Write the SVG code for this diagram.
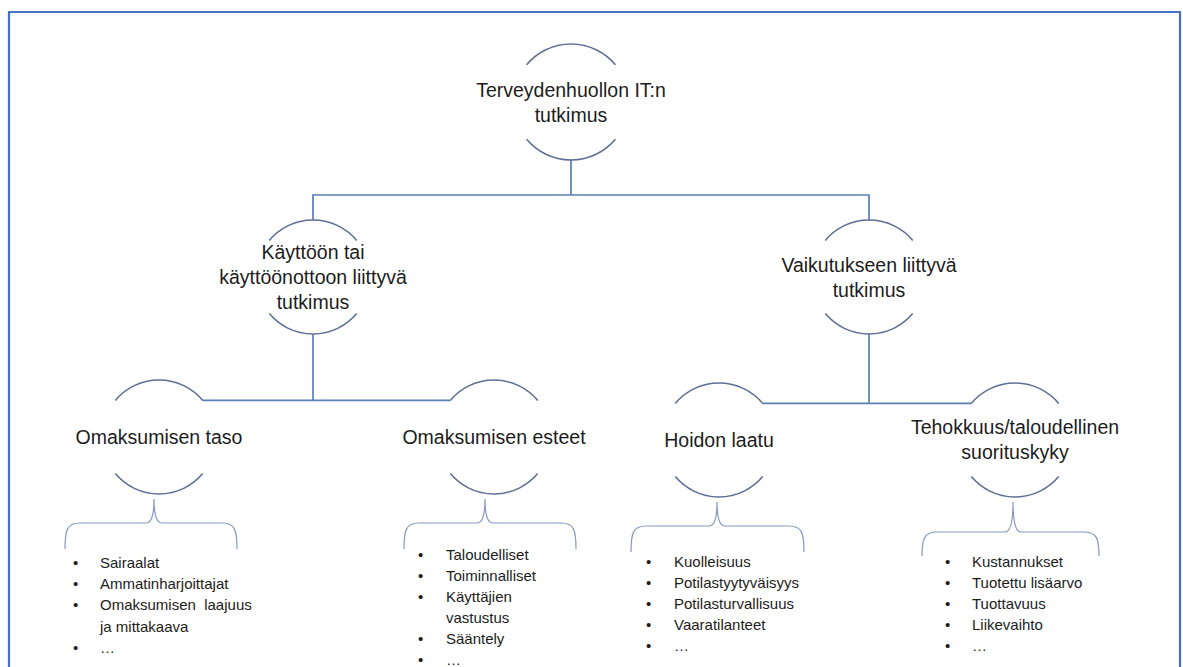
<svg xmlns="http://www.w3.org/2000/svg" width="1183" height="667" viewBox="0 0 1183 667">
  <style>
    .frame { fill: none; stroke: #4472C4; stroke-width: 2.2; }
    .arc { fill: none; stroke: #5F6F96; stroke-width: 1.6; }
    .link { fill: none; stroke: #5B7DB8; stroke-width: 1.7; }
    .brace { fill: none; stroke: #8597C2; stroke-width: 1.2; }
    .node { font-family: "Liberation Sans", Arial, sans-serif; font-size: 19.5px; fill: #1c1c1c; text-anchor: middle; }
    .item { font-family: "Liberation Sans", Arial, sans-serif; font-size: 15px; fill: #1c1c1c; }
  </style>
  <rect width="1183" height="667" fill="#ffffff"/>
  <!-- outer frame, open at the bottom -->
  <path class="frame" d="M9,667 V12 H1180 V667"/>

  <!-- connectors -->
  <g id="connectors">
    <path class="link" d="M571,160 V195"/>
    <path class="link" d="M313,220 V195 H869 V220"/>
    <path class="link" d="M313,334 V400.4"/>
    <path class="link" d="M202.7,400.4 H450.3"/>
    <path class="link" d="M869,334 V403.4"/>
    <path class="link" d="M762.7,403.4 H971.3"/>
  </g>

  <!-- root -->
  <g id="node-root">
    <path class="arc" d="M526.6,64.7 A58,58 0 0 1 615.4,64.7"/>
    <path class="arc" d="M526.6,139.3 A58,58 0 0 0 615.4,139.3"/>
    <text class="node" x="571" y="97">Terveydenhuollon IT:n</text>
    <text class="node" x="571" y="122">tutkimus</text>
  </g>

  <!-- adoption branch -->
  <g id="node-adoption">
    <path class="arc" d="M269.3,240.4 A57,57 0 0 1 356.7,240.4"/>
    <path class="arc" d="M269.3,313.6 A57,57 0 0 0 356.7,313.6"/>
    <text class="node" x="313" y="259">Käyttöön tai</text>
    <text class="node" x="313" y="284">käyttöönottoon liittyvä</text>
    <text class="node" x="313" y="309">tutkimus</text>
  </g>

  <!-- impact branch -->
  <g id="node-impact">
    <path class="arc" d="M825.3,240.4 A57,57 0 0 1 912.7,240.4"/>
    <path class="arc" d="M825.3,313.6 A57,57 0 0 0 912.7,313.6"/>
    <text class="node" x="869" y="272">Vaikutukseen liittyvä</text>
    <text class="node" x="869" y="297">tutkimus</text>
  </g>

  <!-- level of adoption -->
  <g id="node-level">
    <path class="arc" d="M115.3,400.4 A57,57 0 0 1 202.7,400.4"/>
    <path class="arc" d="M115.3,473.6 A57,57 0 0 0 202.7,473.6"/>
    <text class="node" x="159" y="444">Omaksumisen taso</text>
    <path class="brace" d="M65,549 C65,530 67,523 80,523 H146 Q154,523 154,499 Q154,523 162,523 H222 C235,523 237,530 237,549"/>
    <g class="item">
      <text x="73" y="568">•</text><text x="100" y="568">Sairaalat</text>
      <text x="73" y="589">•</text><text x="100" y="589">Ammatinharjoittajat</text>
      <text x="73" y="610">•</text><text x="100" y="610" xml:space="preserve">Omaksumisen  laajuus</text>
      <text x="100" y="632">ja mittakaava</text>
      <text x="73" y="653">•</text><text x="100" y="653">…</text>
    </g>
  </g>

  <!-- barriers to adoption -->
  <g id="node-barriers">
    <path class="arc" d="M450.3,400.4 A57,57 0 0 1 537.7,400.4"/>
    <path class="arc" d="M450.3,473.6 A57,57 0 0 0 537.7,473.6"/>
    <text class="node" x="494" y="444">Omaksumisen esteet</text>
    <path class="brace" d="M404,549 C404,530 406,523 419,523 H477 Q485,523 485,499 Q485,523 493,523 H561 C574,523 576,530 576,549"/>
    <g class="item">
      <text x="418" y="560">•</text><text x="446" y="560">Taloudelliset</text>
      <text x="418" y="581">•</text><text x="446" y="581">Toiminnalliset</text>
      <text x="418" y="602">•</text><text x="446" y="602">Käyttäjien</text>
      <text x="446" y="623">vastustus</text>
      <text x="418" y="644">•</text><text x="446" y="644">Sääntely</text>
      <text x="418" y="665">•</text><text x="446" y="665">…</text>
    </g>
  </g>

  <!-- quality of care -->
  <g id="node-quality">
    <path class="arc" d="M675.3,403.4 A57,57 0 0 1 762.7,403.4"/>
    <path class="arc" d="M675.3,476.6 A57,57 0 0 0 762.7,476.6"/>
    <text class="node" x="719" y="447">Hoidon laatu</text>
    <path class="brace" d="M631,552 C631,533 633,526 646,526 H709 Q717,526 717,502 Q717,526 725,526 H789 C802,526 804,533 804,552"/>
    <g class="item">
      <text x="646" y="567">•</text><text x="674" y="567">Kuolleisuus</text>
      <text x="646" y="588">•</text><text x="674" y="588">Potilastyytyväisyys</text>
      <text x="646" y="609">•</text><text x="674" y="609">Potilasturvallisuus</text>
      <text x="646" y="630">•</text><text x="674" y="630">Vaaratilanteet</text>
      <text x="646" y="651">•</text><text x="674" y="651">…</text>
    </g>
  </g>

  <!-- efficiency / financial performance -->
  <g id="node-efficiency">
    <path class="arc" d="M971.3,403.4 A57,57 0 0 1 1058.7,403.4"/>
    <path class="arc" d="M971.3,476.6 A57,57 0 0 0 1058.7,476.6"/>
    <text class="node" x="1015" y="434">Tehokkuus/taloudellinen</text>
    <text class="node" x="1015" y="459">suorituskyky</text>
    <path class="brace" d="M922,556 C922,539 924,532 937,532 H1005 Q1013,532 1013,502 Q1013,532 1021,532 H1084 C1097,532 1099,539 1099,556"/>
    <g class="item">
      <text x="945" y="567">•</text><text x="972" y="567">Kustannukset</text>
      <text x="945" y="588">•</text><text x="972" y="588">Tuotettu lisäarvo</text>
      <text x="945" y="609">•</text><text x="972" y="609">Tuottavuus</text>
      <text x="945" y="630">•</text><text x="972" y="630">Liikevaihto</text>
      <text x="945" y="651">•</text><text x="972" y="651">…</text>
    </g>
  </g>
</svg>
